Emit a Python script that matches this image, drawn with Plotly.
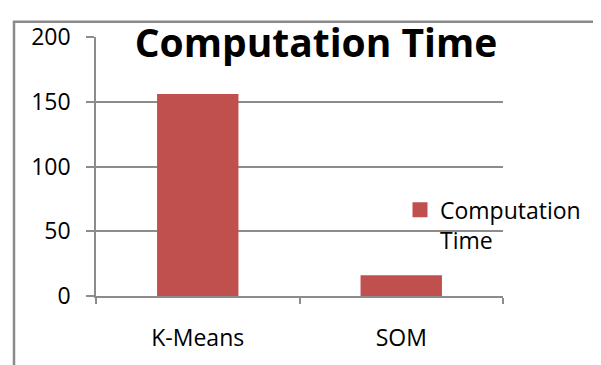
import plotly.graph_objects as go

categories = ["K-Means", "SOM"]
values = [156, 16]
series_name = "Computation<br>Time"
y_ticks = [0, 50, 100, 150, 200]

# page body has an 8px margin; work in screen pixels and convert
OFF = 8
W, H = 601 - OFF, 365 - OFF
L, R, T, B = 96 - OFF, W - (503 - OFF), 25 - OFF, H - (297 - OFF)
pw, ph = W - L - R, H - T - B

def px_x(sx):
    return (sx - OFF - L) / pw

def px_y(sy):
    return (H - B - (sy - OFF)) / ph

font = "Open Sans, Liberation Sans, sans-serif"
grid = "#8c8c8c"
bar_color = "#C0504D"
fs = 23

fig = go.Figure()
fig.add_trace(go.Bar(
    x=categories, y=values, name=series_name, legendgroup="ct",
    marker=dict(color=bar_color, line=dict(width=0)),
    showlegend=False,
))
# legend entry with a larger square swatch
fig.add_trace(go.Scatter(
    x=[None], y=[None], mode="markers", name=series_name, legendgroup="ct",
    marker=dict(symbol="square", size=15, color=bar_color),
    showlegend=True, hoverinfo="skip",
))

fig.update_layout(
    width=W, height=H,
    margin=dict(l=L, r=R, t=T, b=B, pad=0),
    paper_bgcolor="white", plot_bgcolor="white",
    bargap=0.6,
    font=dict(family=font, size=fs, color="black"),
    title=dict(
        text="<b>Computation Time</b>",
        x=(316 - OFF) / W, xanchor="center",
        y=1 - (43 - OFF) / H, yanchor="middle",
        yref="container", xref="container",
        font=dict(family=font, size=39, color="black"),
    ),
    xaxis=dict(
        type="category", showgrid=False, showline=True, linecolor=grid, linewidth=1.5,
        ticks="outside", tickson="boundaries", ticklen=6, tickcolor=grid, tickwidth=1.5,
        ticklabelstandoff=21,
        tickfont=dict(family=font, size=fs, color="black"),
    ),
    yaxis=dict(
        range=[0, 200], tickvals=y_ticks, showgrid=True, gridcolor=grid, gridwidth=1.5,
        showline=True, linecolor=grid, linewidth=1.5, zeroline=False,
        ticks="outside", ticklen=8, tickcolor=grid, tickwidth=1.5,
        ticklabelstandoff=11,
        tickfont=dict(family=font, size=fs, color="black"),
    ),
    legend=dict(
        x=px_x(400), xanchor="left", y=px_y(184), yanchor="top",
        valign="top",
        font=dict(family=font, size=fs, color="black"),
        bgcolor="rgba(0,0,0,0)",
    ),
    shapes=[dict(
        type="rect", xref="paper", yref="paper",
        x0=px_x(14), x1=px_x(598), y0=px_y(380), y1=px_y(9),
        line=dict(color="#8a8a8a", width=2.5), fillcolor="rgba(0,0,0,0)",
        layer="below",
    )],
)

fig.write_html("out.html")
